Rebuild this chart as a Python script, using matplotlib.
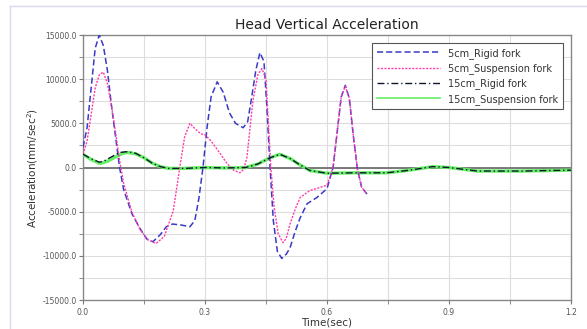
#!/usr/bin/env python3
"""Head vertical acceleration: rigid vs suspension fork."""

import matplotlib

matplotlib.use("Agg")
import matplotlib.pyplot as plt
from matplotlib.lines import Line2D
from matplotlib.ticker import MultipleLocator, FixedLocator

# 5cm, rigid fork
t_5r = [0.0, 0.01, 0.02, 0.03, 0.04, 0.05, 0.06, 0.07, 0.08, 0.09, 0.10, 0.12,
        0.14, 0.157, 0.172, 0.19, 0.205, 0.22, 0.24, 0.263, 0.275, 0.285, 0.295,
        0.305, 0.315, 0.33, 0.345, 0.36, 0.375, 0.394, 0.405, 0.415, 0.425,
        0.435, 0.445, 0.452, 0.46, 0.468, 0.478, 0.489, 0.50, 0.509, 0.522,
        0.534, 0.551, 0.575, 0.60, 0.615, 0.625, 0.635, 0.645, 0.655, 0.665,
        0.675, 0.685, 0.698]
a_5r = [2300, 4500, 9000, 13500, 15000, 13800, 11000, 7000, 3500, 0, -2500,
        -5200, -6900, -8100, -8400, -7600, -6700, -6400, -6500, -6700, -6000,
        -3500, 0, 4500, 8000, 9700, 8500, 6200, 5000, 4500, 5200, 8000, 11000,
        13000, 12000, 7000, 0, -6000, -9500, -10300, -9800, -9100, -7200,
        -5700, -4100, -3400, -2400, 0, 4000, 8000, 9300, 7800, 3500, -200,
        -2200, -3000]

# 5cm, suspension fork
t_5s = [0.0, 0.01, 0.02, 0.03, 0.04, 0.05, 0.06, 0.07, 0.08, 0.09, 0.10, 0.12,
        0.14, 0.16, 0.18, 0.20, 0.222, 0.238, 0.25, 0.263, 0.275, 0.29, 0.30,
        0.315, 0.337, 0.355, 0.37, 0.386, 0.395, 0.403, 0.418, 0.43, 0.44,
        0.45, 0.456, 0.462, 0.47, 0.48, 0.492, 0.50, 0.509, 0.522, 0.534,
        0.558, 0.58, 0.60, 0.615, 0.625, 0.635, 0.645, 0.655, 0.665, 0.675,
        0.685, 0.698]
a_5s = [1500, 3000, 6000, 9000, 10500, 10800, 9500, 7000, 4000, 800, -1800,
        -5000, -7000, -8200, -8600, -7800, -4900, 0, 3500, 5000, 4400, 3800,
        3700, 3000, 1600, 400, -300, -600, -200, 1100, 7600, 10500, 11200,
        10000, 5000, 0, -4500, -7500, -8500, -8000, -6400, -4700, -3400,
        -2600, -2300, -2000, 0, 4000, 8000, 9200, 7800, 3500, -200, -2200,
        -3000]

# 15cm, rigid fork
t_15r = [0.0, 0.02, 0.04, 0.05, 0.07, 0.09, 0.11, 0.13, 0.15, 0.17, 0.19,
         0.21, 0.25, 0.30, 0.35, 0.40, 0.43, 0.46, 0.484, 0.51, 0.53, 0.558,
         0.60, 0.67, 0.746, 0.797, 0.86, 0.90, 0.97, 1.08, 1.2]
a_15r = [1500, 1000, 600, 700, 1200, 1700, 1800, 1600, 1100, 500, 100, -100,
         -100, 0, -50, 0, 400, 1100, 1500, 1000, 400, -340, -650, -600, -600,
         -340, 100, 0, -400, -400, -300]

# 15cm, suspension fork
t_15s = [0.0, 0.02, 0.042, 0.06, 0.08, 0.10, 0.11, 0.13, 0.15, 0.17, 0.19,
         0.21, 0.25, 0.30, 0.35, 0.40, 0.43, 0.46, 0.484, 0.51, 0.53, 0.558,
         0.60, 0.67, 0.746, 0.797, 0.86, 0.90, 0.97, 1.08, 1.2]
a_15s = [1500, 900, 450, 700, 1200, 1650, 1700, 1550, 1100, 500, 100, -100,
         -100, 0, -50, 0, 400, 1100, 1500, 1000, 400, -340, -650, -600, -600,
         -340, 100, 0, -400, -400, -300]

x_ticks = [0.0, 0.3, 0.6, 0.9, 1.2]
y_ticks = [-15000, -10000, -5000, 0, 5000, 10000, 15000]


def main() -> None:
    fig = plt.figure(figsize=(5.87, 3.29), dpi=100)
    ax = fig.add_axes([0.1414, 0.0881, 0.8313, 0.8055])

    ax.plot(t_15s, a_15s, color="#66ee66", lw=2.4, label="15cm_Suspension fork", zorder=3)
    ax.plot(t_5r, a_5r, color="#3a3ac8", lw=1.1, ls=(0, (4, 2)), label="5cm_Rigid fork", zorder=4)
    ax.plot(t_5s, a_5s, color="#ff3caa", lw=1.0, ls=(0, (1.5, 1)), label="5cm_Suspension fork", zorder=4)
    ax.plot(t_15r, a_15r, color="#101830", lw=1.0, ls=(0, (5, 2, 1, 2)), label="15cm_Rigid fork", zorder=4)

    ax.axhline(0, color="#707070", lw=1.3, zorder=2)

    ax.set_xlim(0, 1.2)
    ax.set_ylim(-15000, 15000)
    ax.xaxis.set_major_locator(FixedLocator(x_ticks))
    ax.xaxis.set_minor_locator(MultipleLocator(0.15))
    ax.yaxis.set_major_locator(FixedLocator(y_ticks))
    ax.yaxis.set_minor_locator(MultipleLocator(2500))
    ax.set_xticklabels([f"{v:.1f}" for v in x_ticks])
    ax.set_yticklabels([f"{v:.1f}" for v in y_ticks])
    ax.tick_params(which="both", labelsize=5.5, labelcolor="#555555", color="#777777",
                   direction="out", length=3, pad=1.5)
    ax.tick_params(axis="x", pad=3)
    ax.grid(True, which="both", color="#dddddd", lw=0.8, zorder=0)
    for s in ax.spines.values():
        s.set_color("#888888")
        s.set_linewidth(1.0)

    ax.set_xlabel("Time(sec)", fontsize=7.5, color="#333333", labelpad=0)
    ax.set_ylabel("Acceleration(mm/sec$^2$)", fontsize=7.5, color="#333333", labelpad=2)
    ax.set_title("Head Vertical Acceleration", fontsize=10, color="#222222", pad=4)

    handles = [
        Line2D([], [], color="#3a3ac8", lw=1.1, ls=(0, (4, 2))),
        Line2D([], [], color="#ff3caa", lw=1.0, ls=(0, (1.5, 1))),
        Line2D([], [], color="#101830", lw=1.0, ls=(0, (5, 2, 1, 2))),
        Line2D([], [], color="#66ee66", lw=1.2),
    ]
    labels = ["5cm_Rigid fork", "5cm_Suspension fork", "15cm_Rigid fork", "15cm_Suspension fork"]
    leg = ax.legend(handles, labels, loc="upper right", bbox_to_anchor=(0.984, 0.970),
                    fontsize=7, frameon=True, fancybox=False, framealpha=1,
                    handlelength=6.5, handletextpad=0.8, labelspacing=0.45,
                    borderpad=0.5, borderaxespad=0, labelcolor="#333333")
    leg.get_frame().set_edgecolor("#555555")
    leg.get_frame().set_linewidth(0.8)
    leg.set_zorder(10)

    # faint outer frame of the original window
    fig.add_artist(Line2D([10 / 587, 10 / 587], [0, 1 - 6 / 329], transform=fig.transFigure,
                          color="#d8d8ee", lw=1))
    fig.add_artist(Line2D([10 / 587, 1], [1 - 6 / 329, 1 - 6 / 329], transform=fig.transFigure,
                          color="#d8d8ee", lw=1))

    fig.savefig("out.png", dpi=100)


if __name__ == "__main__":
    main()
